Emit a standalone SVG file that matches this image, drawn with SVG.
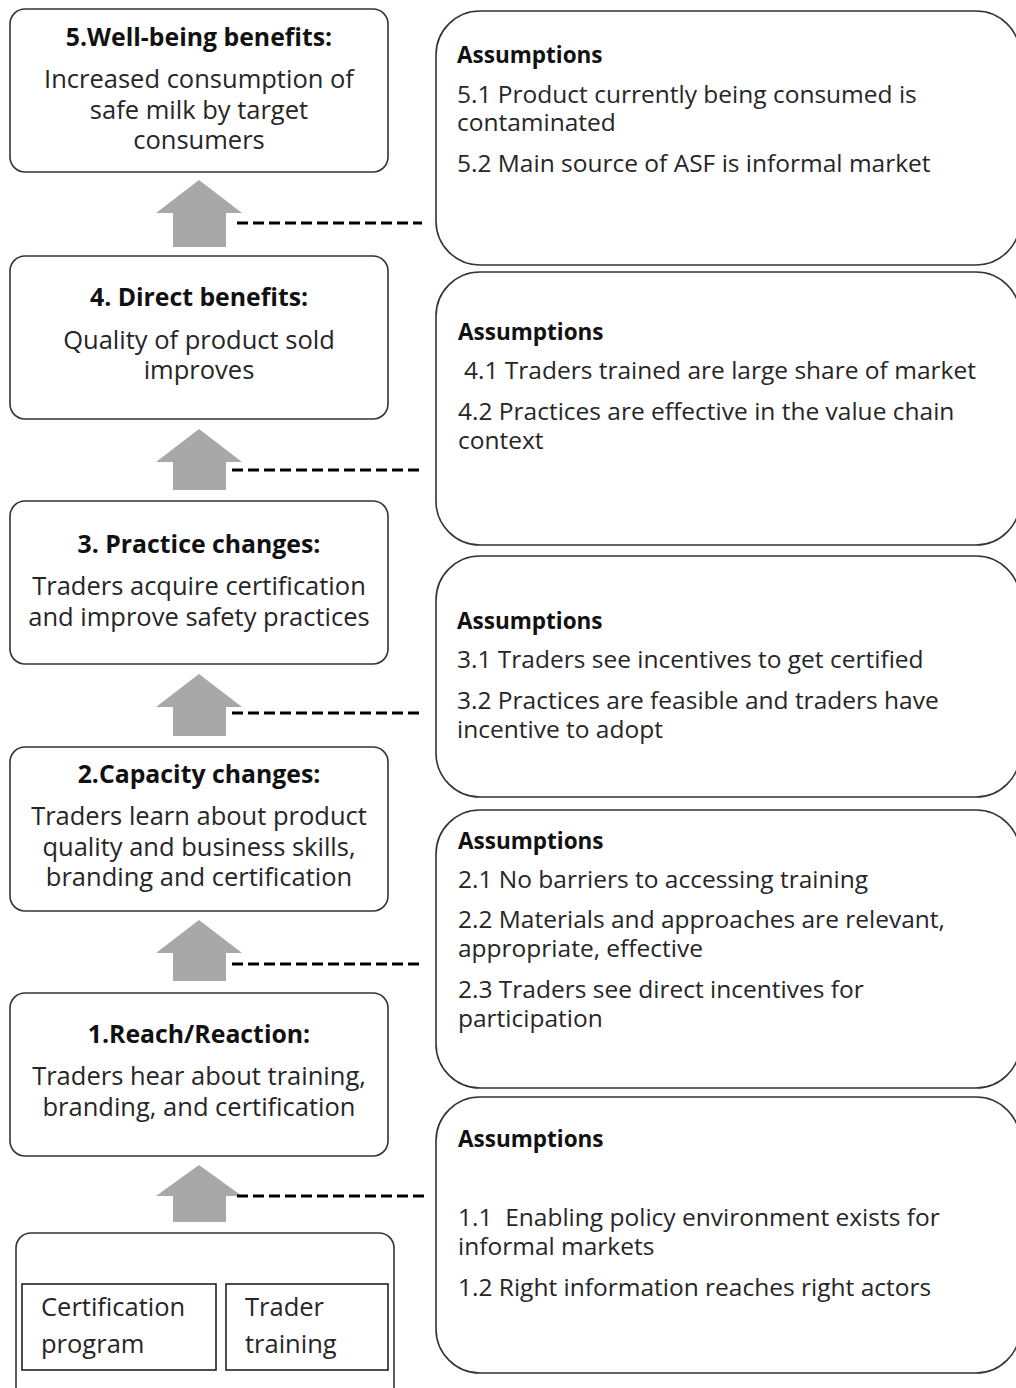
<svg xmlns="http://www.w3.org/2000/svg" width="1016" height="1388" viewBox="0 0 1016 1388">
<style>
.box{fill:#fff;stroke:#333;stroke-width:1.6}
.abox{fill:#fff;stroke:#333;stroke-width:1.6}
.inner{fill:#fff;stroke:#222;stroke-width:1.6}
.t{font-family:"Open Sans","Liberation Sans",sans-serif;font-size:24.5px;fill:#262626}
.l{font-size:25.5px}
.c{text-anchor:middle}
.b{font-weight:bold;fill:#111;font-size:24.8px}
.h{font-family:"Open Sans","Liberation Sans",sans-serif;font-size:22.5px;font-weight:bold;fill:#111}
.arrow{fill:#a8a8a8}
.dash{stroke:#000;stroke-width:3;stroke-dasharray:11 5;fill:none}
</style>
<rect width="1016" height="1388" fill="#fff"/>

<g id="connectors">
<polygon class="arrow" points="199,180 242,213 226,213 226,247 173,247 173,213 156,213"/>
<polygon class="arrow" points="199,429 242,462 226,462 226,490 173,490 173,462 156,462"/>
<polygon class="arrow" points="199,674 242,707 226,707 226,736 173,736 173,707 156,707"/>
<polygon class="arrow" points="199,920 242,953 226,953 226,981 173,981 173,953 156,953"/>
<polygon class="arrow" points="199,1165 242,1196 226,1196 226,1222 173,1222 173,1196 156,1196"/>
<line class="dash" x1="237" y1="223" x2="422" y2="223"/>
<line class="dash" x1="232" y1="470" x2="420" y2="470"/>
<line class="dash" x1="232" y1="713" x2="422" y2="713"/>
<line class="dash" x1="232" y1="964" x2="422" y2="964"/>
<line class="dash" x1="237" y1="1196" x2="424" y2="1196"/>
</g>

<g id="n5">
<rect class="box" x="10" y="9" width="378" height="163" rx="15"/>
<text class="t c b" x="199" y="46">5.Well-being benefits:</text>
<text class="t l c" x="199" y="88">Increased consumption of</text>
<text class="t l c" x="199" y="119">safe milk by target</text>
<text class="t l c" x="199" y="149">consumers</text>
</g>

<g id="n4">
<rect class="box" x="10" y="256" width="378" height="163" rx="15"/>
<text class="t c b" x="199" y="306">4. Direct benefits:</text>
<text class="t l c" x="199" y="349">Quality of product sold</text>
<text class="t l c" x="199" y="379">improves</text>
</g>

<g id="n3">
<rect class="box" x="10" y="501" width="378" height="163" rx="15"/>
<text class="t c b" x="199" y="553">3. Practice changes:</text>
<text class="t l c" x="199" y="595">Traders acquire certification</text>
<text class="t l c" x="199" y="626">and improve safety practices</text>
</g>

<g id="n2">
<rect class="box" x="10" y="747" width="378" height="164" rx="15"/>
<text class="t c b" x="199" y="783">2.Capacity changes:</text>
<text class="t l c" x="199" y="825">Traders learn about product</text>
<text class="t l c" x="199" y="856">quality and business skills,</text>
<text class="t l c" x="199" y="886">branding and certification</text>
</g>

<g id="n1">
<rect class="box" x="10" y="993" width="378" height="163" rx="15"/>
<text class="t c b" x="199" y="1043">1.Reach/Reaction:</text>
<text class="t l c" x="199" y="1085">Traders hear about training,</text>
<text class="t l c" x="199" y="1116">branding, and certification</text>
</g>

<g id="n0">
<rect class="box" x="16" y="1233" width="378" height="175" rx="15"/>
<rect class="inner" x="22" y="1284" width="194" height="86"/>
<rect class="inner" x="226" y="1284" width="162" height="86"/>
<text class="t l" x="41" y="1316">Certification</text>
<text class="t l" x="41" y="1353">program</text>
<text class="t l" x="245" y="1316">Trader</text>
<text class="t l" x="245" y="1353">training</text>
</g>

<g id="a5">
<rect class="abox" x="436" y="11" width="584" height="254" rx="44"/>
<text class="h" x="457" y="63">Assumptions</text>
<text class="t" x="457" y="103">5.1 Product currently being consumed is</text>
<text class="t" x="457" y="131">contaminated</text>
<text class="t" x="457" y="172">5.2 Main source of ASF is informal market</text>
</g>

<g id="a4">
<rect class="abox" x="436" y="272" width="584" height="273" rx="44"/>
<text class="h" x="458" y="340">Assumptions</text>
<text class="t" x="464" y="379">4.1 Traders trained are large share of market</text>
<text class="t" x="458" y="420">4.2 Practices are effective in the value chain</text>
<text class="t" x="458" y="449">context</text>
</g>

<g id="a3">
<rect class="abox" x="436" y="556" width="584" height="241" rx="44"/>
<text class="h" x="457" y="629">Assumptions</text>
<text class="t" x="457" y="668">3.1 Traders see incentives to get certified</text>
<text class="t" x="457" y="709">3.2 Practices are feasible and traders have</text>
<text class="t" x="457" y="738">incentive to adopt</text>
</g>

<g id="a2">
<rect class="abox" x="436" y="810" width="584" height="278" rx="44"/>
<text class="h" x="458" y="849">Assumptions</text>
<text class="t" x="458" y="888">2.1 No barriers to accessing training</text>
<text class="t" x="458" y="928">2.2 Materials and approaches are relevant,</text>
<text class="t" x="458" y="957">appropriate, effective</text>
<text class="t" x="458" y="998">2.3 Traders see direct incentives for</text>
<text class="t" x="458" y="1027">participation</text>
</g>

<g id="a1">
<rect class="abox" x="436" y="1097" width="584" height="276" rx="44"/>
<text class="h" x="458" y="1147">Assumptions</text>
<text class="t" x="458" y="1226" xml:space="preserve">1.1  Enabling policy environment exists for</text>
<text class="t" x="458" y="1255">informal markets</text>
<text class="t" x="458" y="1296">1.2 Right information reaches right actors</text>
</g>
</svg>
